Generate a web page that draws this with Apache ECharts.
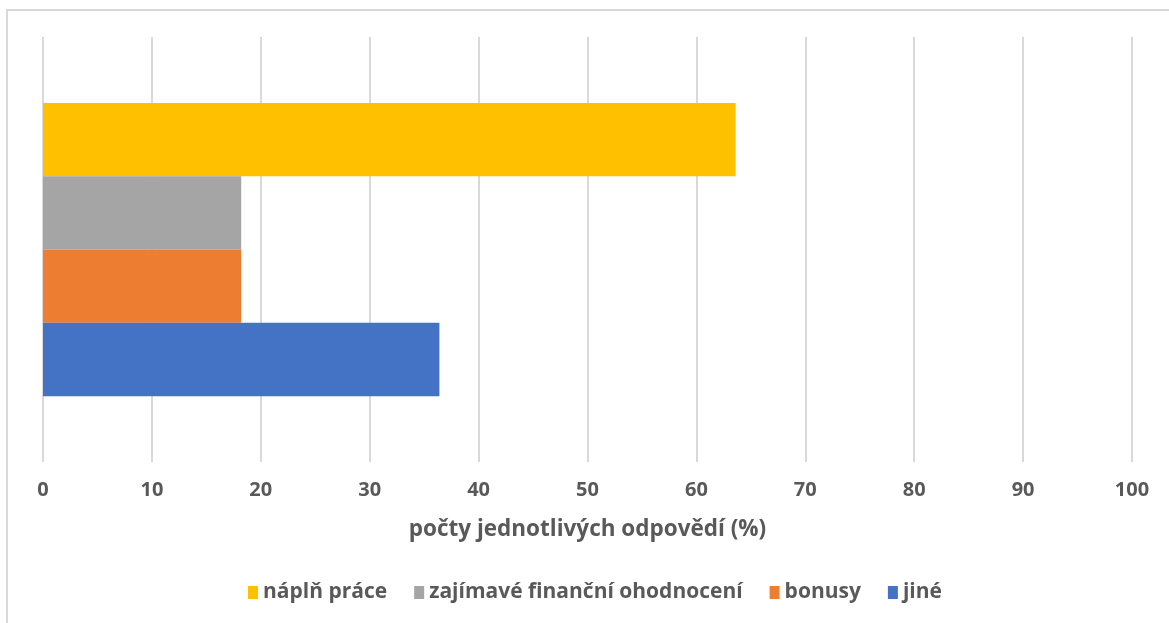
<!DOCTYPE html>
<html>
<head>
<meta charset="utf-8">
<script src="https://cdn.jsdelivr.net/npm/echarts@6/dist/echarts.min.js"></script>
<style>
  html, body { margin: 0; padding: 0; background: #fff; }
  #frame { position: absolute; left: 6px; top: 9px; width: 1300px; height: 800px;
           border-left: 2px solid #d9d9d9; border-top: 2px solid #d9d9d9; }
  #chart { position: absolute; left: 0; top: 0; width: 1169px; height: 623px; }
</style>
</head>
<body>
<div id="frame"></div>
<div id="chart"></div>
<script>
// kategorie (jen jedna skupina) a hodnoty v %
const categories = ['']
const seriesNames = ['náplň práce', 'zajímavé finanční ohodnocení', 'bonusy', 'jiné']
const seriesValues = [[63.6], [18.2], [18.2], [36.4]]
const seriesColors = ['#FFC000', '#A5A5A5', '#ED7D31', '#4472C4']

const font = '"Open Sans", "DejaVu Sans", sans-serif'
const chart = echarts.init(document.getElementById('chart'))

const option = {
  animation: false,
  textStyle: { fontFamily: font },
  grid: { left: 43, right: 37, top: 37, bottom: 161 },
  legend: {
    top: 577,
    left: 243,
    itemWidth: 10,
    itemHeight: 13,
    itemGap: 27,
    icon: 'rect',
    textStyle: { color: '#595959', fontSize: 21, fontWeight: 'bold', fontFamily: font },
    data: seriesNames
  },
  xAxis: {
    type: 'value',
    min: 0,
    max: 100,
    interval: 10,
    name: 'počty jednotlivých odpovědí (%)',
    nameLocation: 'middle',
    nameGap: 56,
    nameTextStyle: { color: '#595959', fontSize: 22.5, fontWeight: 'bold', fontFamily: font },
    axisLine: { show: false },
    axisTick: { show: false },
    axisLabel: { color: '#595959', fontSize: 20, fontWeight: 'bold', margin: 18, fontFamily: font },
    splitLine: { lineStyle: { color: '#d9d9d9', width: 2 } }
  },
  yAxis: {
    type: 'category',
    data: categories,
    axisLine: { show: false },
    axisTick: { show: false },
    axisLabel: { show: false }
  },
  series: seriesNames.map((name, i) => ({
    name: name,
    type: 'bar',
    data: seriesValues[i],
    barGap: '0%',
    barCategoryGap: '31%',
    itemStyle: { color: seriesColors[i] }
  }))
}
chart.setOption(option)
</script>
</body>
</html>
